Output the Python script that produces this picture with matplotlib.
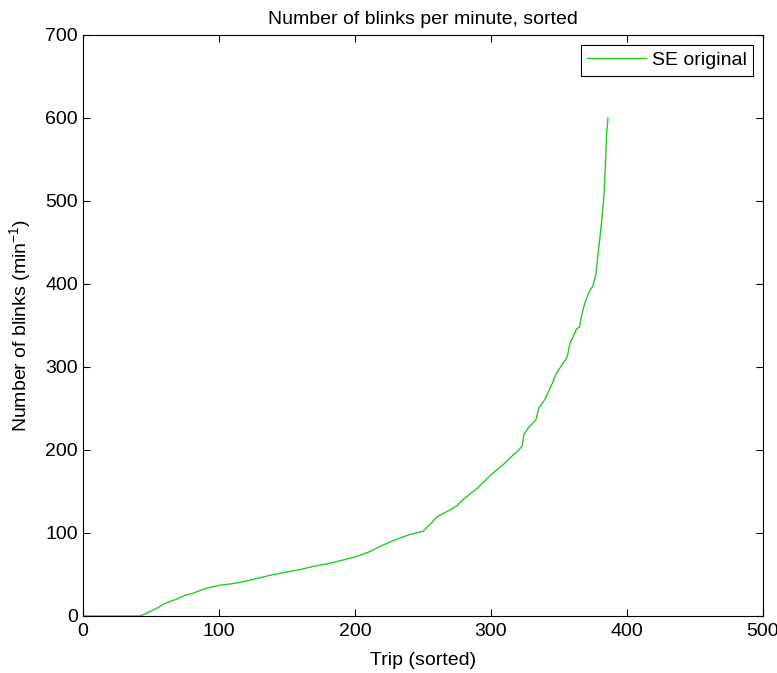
import matplotlib
matplotlib.use('Agg')
import matplotlib.pyplot as plt

# sorted blink rate per trip
trip = [1, 42, 45, 50, 55, 60, 65, 70, 75, 80, 85, 90, 95, 100, 110, 120, 130,
        140, 150, 160, 170, 180, 190, 200, 210, 220, 230, 240, 250, 255, 260,
        270, 275, 280, 290, 295, 300, 305, 310, 315, 320, 323, 324, 328, 333,
        335, 340, 345, 348, 352, 356, 358, 363, 365, 367, 369, 372, 375, 377,
        379, 381, 383, 384, 385, 386]
blinks = [0, 0, 2, 6, 10, 15, 18, 21, 25, 27, 30, 33, 35, 37, 39, 42, 46,
          50, 53, 56, 60, 63, 67, 71, 77, 85, 92, 98, 102, 110, 119,
          128, 133, 141, 154, 162, 170, 177, 184, 192, 199, 205, 218, 228, 236,
          250, 262, 280, 292, 302, 312, 328, 346, 348, 365, 377, 390, 398, 410,
          440, 470, 505, 540, 580, 600]

plt.rcParams['font.family'] = ['Liberation Sans', 'DejaVu Sans']

fig = plt.figure(figsize=(7.77, 6.73), dpi=100)
ax = fig.add_axes([0.1068, 0.0847, 0.8752, 0.8633])

ax.plot(trip, blinks, color='#22cc22', linewidth=1.0, label='SE original')

ax.set_xlim(0, 500)
ax.set_ylim(0, 700)
ax.set_xticks(range(0, 501, 100))
ax.set_yticks(range(0, 701, 100))
ax.tick_params(direction='in', top=True, right=True, length=5, labelsize=14)
ax.tick_params(axis='x', pad=5)

ax.set_title('Number of blinks per minute, sorted', fontsize=14, pad=8)
ax.set_xlabel('Trip (sorted)', fontsize=14, labelpad=9)
ax.set_ylabel('Number of blinks (min$^{\\mathregular{-1}}$)', fontsize=14, labelpad=8)

leg = ax.legend(loc='upper right', fontsize=14, fancybox=False, framealpha=1,
                handlelength=3.0, handletextpad=0.3, borderpad=0.35,
                borderaxespad=0.5)
leg.get_frame().set_edgecolor('black')
leg.get_frame().set_linewidth(0.8)

fig.savefig('out.png', dpi=100)
